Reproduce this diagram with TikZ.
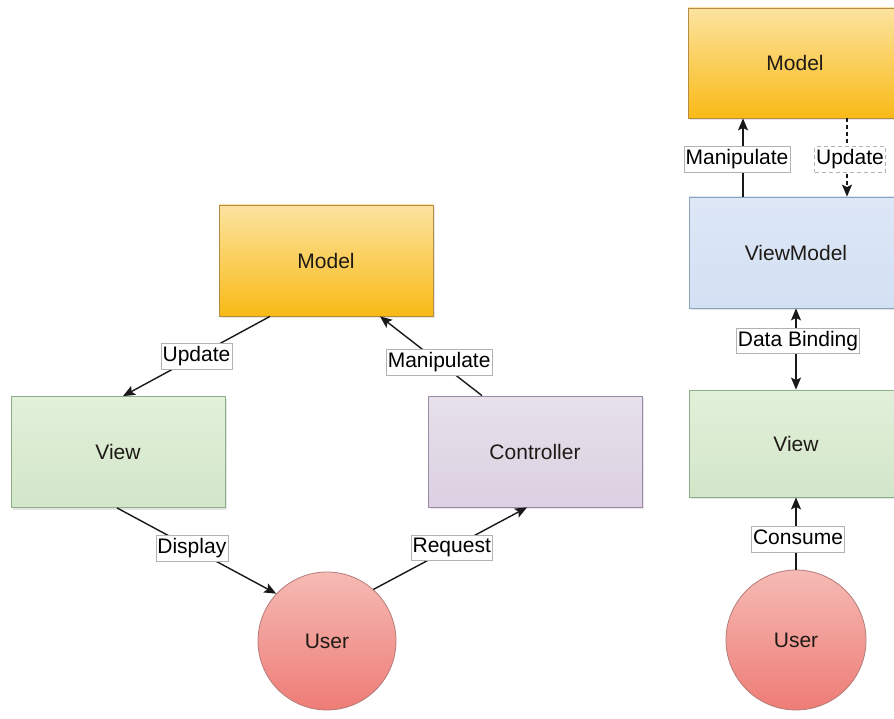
\documentclass[tikz,border=0pt]{standalone}
\usepackage{fontspec}
\setmainfont{Liberation Sans}
\usetikzlibrary{arrows.meta,shadows}

\definecolor{modeltop}{HTML}{FCE3A0}
\definecolor{modelmid}{HTML}{F9BE26}
\definecolor{modelbot}{HTML}{F9BA16}
\definecolor{modeledge}{HTML}{B48C42}
\definecolor{viewtop}{HTML}{E2F0DA}
\definecolor{viewmid}{HTML}{CFE6C4}
\definecolor{viewbot}{HTML}{D2E6C9}
\definecolor{viewedge}{HTML}{8DAE86}
\definecolor{ctrltop}{HTML}{E6E1EA}
\definecolor{ctrlmid}{HTML}{D5C6DE}
\definecolor{ctrlbot}{HTML}{DCD0E2}
\definecolor{ctrledge}{HTML}{998BA8}
\definecolor{vmtop}{HTML}{DDE7F6}
\definecolor{vmmid}{HTML}{C3D6F2}
\definecolor{vmbot}{HTML}{D3E1F4}
\definecolor{vmedge}{HTML}{8BA2BC}
\definecolor{usertop}{HTML}{F6BAB4}
\definecolor{userbot}{HTML}{EE7C76}
\definecolor{useredge}{HTML}{B57B78}
\definecolor{inktext}{HTML}{1E1A16}

\begin{document}
\begin{tikzpicture}[x=1pt,y=-1pt,
  txt/.style={font=\fontsize{21}{24}\selectfont},
  box/.style={txt, rectangle, minimum width=214pt, minimum height=111pt,
    line width=0.8pt, text=inktext,
    drop shadow={shadow xshift=1.5pt, shadow yshift=-2pt, opacity=0.2}},
  modelbox/.style={box, draw=modeledge, top color=modeltop, middle color=modelmid, bottom color=modelbot},
  viewbox/.style={box, draw=viewedge, top color=viewtop, middle color=viewmid, bottom color=viewbot},
  ctrlbox/.style={box, draw=ctrledge, top color=ctrltop, middle color=ctrlmid, bottom color=ctrlbot},
  vmbox/.style={box, draw=vmedge, top color=vmtop, middle color=vmmid, bottom color=vmbot},
  userdot/.style={txt, circle, minimum size=138pt, inner sep=0pt, text=inktext,
    draw=useredge, line width=0.8pt, top color=usertop, bottom color=userbot},
  tip/.tip={Stealth[length=12pt,width=10pt,inset=2.5pt]},
  conn/.style={draw=black!90, line width=1.4pt, -tip},
  lbl/.style={txt, fill=white, draw=gray!60, line width=0.5pt,
    inner xsep=1.5pt, inner ysep=3pt, text height=15pt, text depth=4.5pt}
]
\useasboundingbox (0,0) rectangle (894,719);
\fill[white] (0,0) rectangle (894,719);
\clip (0,0) rectangle (894,719);

% MVC
\node[modelbox] (lmodel) at (326,260.5) {Model};
\node[viewbox]  (lview)  at (118,452)   {View};
\node[ctrlbox]  (ctrl)   at (535,451.5) {Controller};
\node[userdot]  (luser)  at (327,641)   {User};

\draw[conn] ([xshift=-56pt]lmodel.south) -- node[lbl,pos=.5]{Update} ([xshift=5pt]lview.north);
\draw[conn] ([xshift=-53pt]ctrl.north) -- node[lbl,pos=.42]{Manipulate} ([xshift=54pt]lmodel.south);
\draw[conn] ([xshift=-1pt]lview.south) -- node[lbl,pos=.47]{Display} (luser.137);
\draw[conn] (luser.48) -- node[lbl,pos=.51]{Request} ([xshift=-8pt]ctrl.south);

% MVVM
\node[modelbox, minimum height=110pt] (rmodel) at (795,63) {Model};
\node[vmbox]    (vm)     at (796,252.5) {ViewModel};
\node[viewbox, minimum height=107pt] (rview) at (796,443.5) {View};
\node[userdot, minimum size=140pt]   (ruser) at (796,640) {User};

\draw[conn] ([xshift=-53pt]vm.north) -- node[lbl,pos=.475,xshift=-6pt]{Manipulate} ([xshift=-52pt]rmodel.south);
\draw[conn, dash pattern=on 4pt off 3pt] ([xshift=52pt]rmodel.south) -- node[lbl,pos=.525,xshift=3pt]{Update} ([xshift=51pt]vm.north);
\draw[conn, tip-tip] (vm.south) -- node[lbl,pos=.4,xshift=2pt]{Data Binding} (rview.north);
\draw[conn] (ruser.north) -- node[lbl,pos=.42,xshift=2pt]{Consume} (rview.south);
\end{tikzpicture}
\end{document}
